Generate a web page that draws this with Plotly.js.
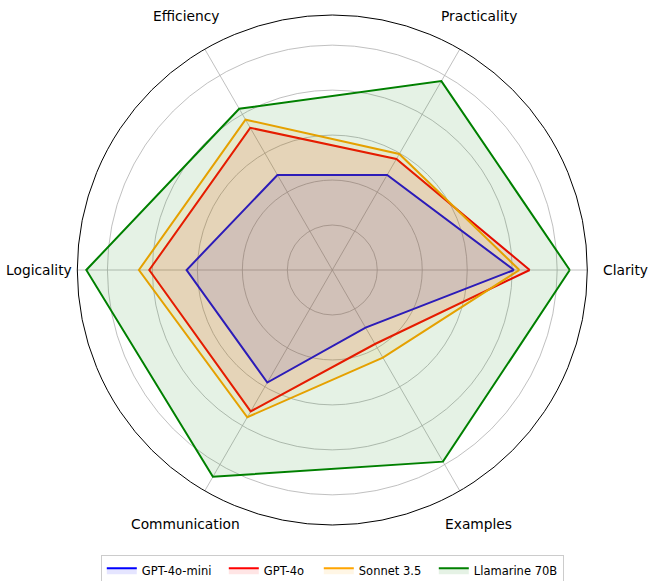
<!DOCTYPE html>
<html>
<head>
<meta charset="utf-8">
<script src="https://cdn.plot.ly/plotly-3.0.1.min.js"></script>
<style>html,body{margin:0;padding:0;background:#fff;}#chart{width:648px;height:581px;}</style>
</head>
<body>
<div id="chart"></div>
<script>
const categories = ["Clarity", "Practicality", "Efficiency", "Logicality", "Communication", "Examples"];
const seriesNames = ["GPT-4o-mini", "GPT-4o", "Sonnet 3.5", "Llamarine 70B"];
const gpt4oMini = [4.04, 2.44, 2.44, 3.24, 2.89, 1.48];
const gpt4o = [4.39, 2.85, 3.65, 4.07, 3.63, 1.90];
const sonnet35 = [4.16, 2.98, 3.86, 4.30, 3.78, 2.25];
const llamarine70b = [5.28, 4.85, 4.14, 5.47, 5.31, 4.92];
const gridTicks = [1, 2, 3, 4, 5];

const allValues = [gpt4oMini, gpt4o, sonnet35, llamarine70b];
const lineColors = ["#0000ff", "#ff0000", "#ffa500", "#008000"];
const fillColors = ["rgba(0,0,255,0.1)", "rgba(255,0,0,0.1)", "rgba(255,165,0,0.1)", "rgba(0,128,0,0.1)"];
const legendWidths = [77, 50, 70, 84];
const radialMax = 5.67;

const W = 648, H = 581;
const cx = 332.3, cy = 270, R = 255;      // polar circle, pixels
const labelDist = 293;                     // label centre distance, pixels

const traces = allValues.map((vals, i) => ({
  type: "scatterpolar",
  r: vals.concat([vals[0]]),
  theta: categories.concat([categories[0]]),
  mode: "lines",
  name: seriesNames[i],
  line: {color: lineColors[i], width: 2},
  fill: "toself",
  fillcolor: fillColors[i],
  legendwidth: legendWidths[i],
  hoverinfo: "skip"
}));

const annotations = categories.map((c, i) => {
  const a = i * 2 * Math.PI / categories.length;
  return {
    text: c,
    xref: "paper", yref: "paper",
    x: (cx + labelDist * Math.cos(a)) / W,
    y: (H - cy + labelDist * Math.sin(a)) / H,
    xanchor: "center", yanchor: "middle",
    showarrow: false,
    font: {family: "DejaVu Sans", size: 13.8, color: "#000"}
  };
});

const layout = {
  width: W,
  height: H,
  margin: {l: 0, r: 0, t: 0, b: 0, autoexpand: false},
  paper_bgcolor: "#ffffff",
  font: {family: "DejaVu Sans", size: 13.8, color: "#000"},
  showlegend: true,
  legend: {
    orientation: "h",
    x: cx / W, xanchor: "center",
    y: -0.008, yanchor: "bottom",
    bordercolor: "#cccccc", borderwidth: 1,
    font: {family: "DejaVu Sans", size: 11.5, color: "#000"}
  },
  annotations: annotations,
  polar: {
    domain: {x: [(cx - R) / W, (cx + R) / W], y: [(H - cy - R) / H, (H - cy + R) / H]},
    bgcolor: "rgba(0,0,0,0)",
    radialaxis: {
      range: [0, radialMax],
      tickvals: gridTicks,
      showticklabels: false,
      ticks: "",
      showline: false,
      gridcolor: "#b0b0b0",
      gridwidth: 0.8
    },
    angularaxis: {
      type: "category",
      categoryarray: categories,
      rotation: 0,
      direction: "counterclockwise",
      showline: true,
      linecolor: "#000",
      linewidth: 1,
      gridcolor: "#b0b0b0",
      gridwidth: 0.8,
      ticks: "",
      showticklabels: false
    }
  }
};

Plotly.newPlot("chart", traces, layout, {displayModeBar: false, staticPlot: true});
</script>
</body>
</html>
